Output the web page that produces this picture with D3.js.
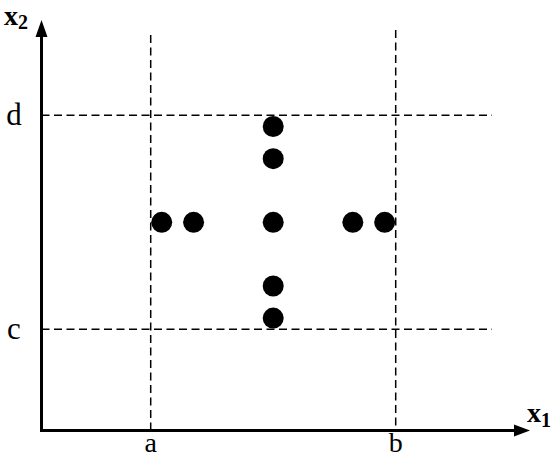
<!DOCTYPE html>
<html><head><meta charset="utf-8">
<script src="https://cdn.jsdelivr.net/npm/d3@7"></script>
<style>html,body{margin:0;padding:0;background:#fff;}svg{display:block;}</style>
</head><body>
<svg id="chart" width="552" height="458"></svg>
<script>
// ---- data ----
const xTickLabels = ["a", "b"];
const xTickValues = [-1, 1];
const yTickLabels = ["c", "d"];
const yTickValues = [-1, 1];
const horizontalPointsX = [-0.91, -0.65, 0, 0.65, 0.91]; // on x2 = 0
const verticalPointsY = [0.895, 0.595, -0.595, -0.895];  // on x1 = 0
const xAxisLabel = "x";
const xAxisSub = "1";
const yAxisLabel = "x";
const yAxisSub = "2";

// ---- layout ----
const svg = d3.select("#chart");
const x = d3.scaleLinear().domain([-1, 1]).range([150.7, 395.7]);
const y = d3.scaleLinear().domain([-1, 1]).range([329.3, 115.3]);
const originX = 41.5, originY = 430.5;
const xEnd = 530, yEnd = 20;
const font = "'Liberation Serif', 'Times New Roman', serif";

// dashed guide lines
const vTop = [35, 30];
svg.selectAll(".vguide").data(xTickValues).enter().append("line")
  .attr("x1", d => x(d)).attr("x2", d => x(d))
  .attr("y1", (d, i) => vTop[i]).attr("y2", originY)
  .attr("stroke", "#000").attr("stroke-width", 1.5).attr("stroke-dasharray", "8,4.5");
svg.selectAll(".hguide").data(yTickValues).enter().append("line")
  .attr("x1", originX).attr("x2", 492)
  .attr("y1", d => y(d)).attr("y2", d => y(d))
  .attr("stroke", "#000").attr("stroke-width", 1.5).attr("stroke-dasharray", "8,4.5");

// axes
svg.append("line").attr("x1", originX).attr("x2", originX).attr("y1", originY + 1.5).attr("y2", yEnd + 10)
  .attr("stroke", "#000").attr("stroke-width", 3);
svg.append("line").attr("x1", originX - 1.5).attr("x2", xEnd - 8).attr("y1", originY).attr("y2", originY)
  .attr("stroke", "#000").attr("stroke-width", 3);
svg.append("path").attr("d", `M${originX},${yEnd} L${originX - 6},${yEnd + 17} L${originX + 6},${yEnd + 17} Z`).attr("fill", "#000");
svg.append("path").attr("d", `M${xEnd},${originY} L${xEnd - 16},${originY - 6} L${xEnd - 16},${originY + 6} Z`).attr("fill", "#000");

// tick labels
svg.selectAll(".xlab").data(xTickLabels).enter().append("text")
  .attr("x", (d, i) => x(xTickValues[i])).attr("y", 452)
  .attr("text-anchor", "middle").attr("font-family", font).attr("font-size", 28).text(d => d);
svg.selectAll(".ylab").data(yTickLabels).enter().append("text")
  .attr("x", 14).attr("y", (d, i) => y(yTickValues[i]) + 10)
  .attr("text-anchor", "middle").attr("font-family", font).attr("font-size", 31).text(d => d);

// axis titles
const t2 = svg.append("text").attr("x", 4).attr("y", 25).attr("font-family", font).attr("font-weight", "bold").attr("font-size", 28);
t2.append("tspan").text(yAxisLabel);
t2.append("tspan").attr("font-size", 20).attr("dy", 4).text(yAxisSub);
const t1 = svg.append("text").attr("x", 527).attr("y", 422).attr("font-family", font).attr("font-weight", "bold").attr("font-size", 28);
t1.append("tspan").text(xAxisLabel);
t1.append("tspan").attr("font-size", 20).attr("dy", 5).text(xAxisSub);

// points
const pts = horizontalPointsX.map(v => [v, 0]).concat(verticalPointsY.map(v => [0, v]));
svg.selectAll(".pt").data(pts).enter().append("circle")
  .attr("cx", d => x(d[0])).attr("cy", d => y(d[1])).attr("r", 10.5).attr("fill", "#000");
</script>
</body></html>
